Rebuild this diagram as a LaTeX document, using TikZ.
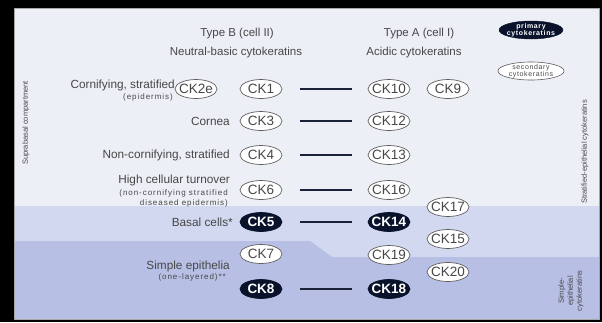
\documentclass[tikz,border=0pt]{standalone}
\usepackage{fontspec}
\setmainfont{Liberation Sans}
\newfontfamily\subfont[LetterSpace=12]{Liberation Sans}
\newfontfamily\legfont[LetterSpace=9]{Liberation Sans}
\usetikzlibrary{shapes.geometric}
\definecolor{panel}{HTML}{EDEFF6}
\definecolor{bandA}{HTML}{D2D8EF}
\definecolor{bandB}{HTML}{B7BFE5}
\definecolor{txt}{HTML}{474747}
\definecolor{ring}{HTML}{5E5E5E}
\definecolor{navy}{HTML}{08122A}
\definecolor{bar}{HTML}{1A2238}
\tikzset{
  sec/.style={ellipse, draw=ring, line width=0.7pt, fill=white, text=txt,
    minimum width=42pt, minimum height=19pt, inner xsep=-4pt, inner ysep=-1pt,
    font=\fontsize{13.5}{14}\selectfont},
  pri/.style={sec, fill=navy, draw=navy, text=white,
    font=\fontsize{13.5}{14}\selectfont\bfseries},
  lbl/.style={anchor=east, text=txt, inner sep=0pt, font=\fontsize{11.8}{13}\selectfont},
  sublbl/.style={anchor=east, text=txt, inner sep=0pt, font=\subfont\fontsize{8}{9}\selectfont},
  head/.style={text=txt, inner sep=0pt, font=\fontsize{11.5}{13}\selectfont},
  vlab/.style={text=txt, inner sep=0pt, rotate=90, align=center, font=\fontsize{7.5}{9}\selectfont},
  leg/.style={ellipse, inner xsep=-8pt, inner ysep=-2pt, align=center},
  link/.style={draw=bar, line width=1.7pt}
}
\begin{document}
\begin{tikzpicture}[x=1pt,y=-1pt]
\useasboundingbox (0,0) rectangle (602,322);
\fill[black] (0,0) rectangle (602,322);
\fill[panel] (14,8) rectangle (599,319);
\fill[bandA] (14,206) rectangle (599,319);
\fill[bandB] (14,241) -- (310,241) -- (332,257) -- (599,257) -- (599,319) -- (14,319) -- cycle;
\draw[gray!70, line width=0.6pt] (14,8) rectangle (599,319);

% headers
\node[head] (hB1) at (237,34) {Type B (cell II)};
\node[head] (hB2) at (236,53) {Neutral-basic cytokeratins};
\node[head] (hA1) at (419,34) {Type A (cell I)};
\node[head] (hA2) at (414,53) {Acidic cytokeratins};

% legend
\node[leg, fill=navy, draw=navy, minimum width=64pt, minimum height=18pt,
  text=white, font=\legfont\fontsize{7}{7.5}\selectfont\bfseries] (legP) at (531,30) {primary\\cytokeratins};
\node[leg, fill=white, draw=ring, line width=0.6pt, minimum width=66pt, minimum height=18pt,
  text=txt, font=\legfont\fontsize{7}{7.5}\selectfont] (legS) at (531,71) {secondary\\cytokeratins};

% row labels
\node[lbl] (l1) at (175,85) {Cornifying, stratified};
\node[sublbl] (l1s) at (173,97) {(epidermis)};
\node[lbl] (l2) at (230,121) {Cornea};
\node[lbl] (l3) at (230,155) {Non-cornifying, stratified};
\node[lbl] (l4) at (230,180) {High cellular turnover};
\node[sublbl] (l4s) at (228,193) {(non-cornifying stratified};
\node[sublbl] (l4t) at (228,203) {diseased epidermis)};
\node[lbl] (l5) at (233,222) {Basal cells*};
\node[lbl] (l6) at (230,266) {Simple epithelia};
\node[sublbl] (l6s) at (226,277) {(one-layered)**};

% keratins
\node[sec] (ck2e) at (196,89) {CK2e};
\node[sec] (ck1) at (261,89) {CK1};
\node[sec] (ck10) at (389,89) {CK10};
\node[sec] (ck9) at (448,89) {CK9};
\node[sec] (ck3) at (261,121) {CK3};
\node[sec] (ck12) at (389,121) {CK12};
\node[sec] (ck4) at (261,155) {CK4};
\node[sec] (ck13) at (389,155) {CK13};
\node[sec] (ck6) at (261,190) {CK6};
\node[sec] (ck16) at (389,190) {CK16};
\node[sec] (ck17) at (448,207) {CK17};
\node[pri] (ck5) at (261,222) {CK5};
\node[pri] (ck14) at (389,222) {CK14};
\node[sec] (ck15) at (448,239) {CK15};
\node[sec] (ck7) at (261,254) {CK7};
\node[sec] (ck19) at (389,255) {CK19};
\node[sec] (ck20) at (448,272) {CK20};
\node[pri] (ck8) at (261,289) {CK8};
\node[pri] (ck18) at (389,289) {CK18};

% links
\foreach \b/\a in {ck1/ck10, ck3/ck12, ck4/ck13, ck6/ck16, ck5/ck14, ck8/ck18}
  \draw[link] ([xshift=18pt]\b.east) -- ([xshift=-16pt]\a.west);

% vertical labels
\node[vlab] (supra) at (26,123) {Suprabasal compartment};
\node[vlab] (strat) at (585,152) {Stratified-epithelial cytokeratins};
\node[vlab] (simp) at (571,291) {Simple-\\epithelial\\cytokeratins};
\end{tikzpicture}
\end{document}
